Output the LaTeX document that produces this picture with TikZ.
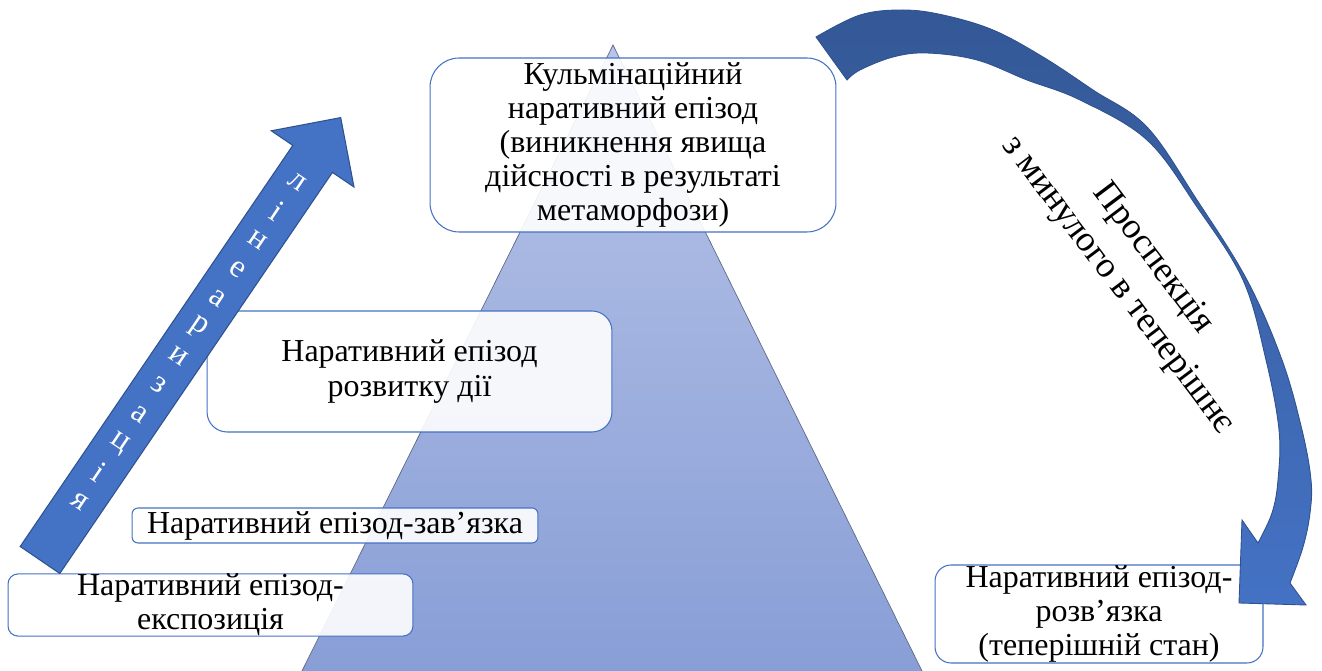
\documentclass[tikz,border=0pt]{standalone}
\usepackage{fontspec}
\setmainfont{Liberation Serif}
\usepackage{tikz}
\usetikzlibrary{calc}

\definecolor{officeblue}{RGB}{68,114,196}
\definecolor{darkblue}{RGB}{47,82,143}
\definecolor{arctop}{RGB}{52,88,150}
\definecolor{pyrtop}{RGB}{184,196,232}
\definecolor{pyrbot}{RGB}{136,158,214}
\definecolor{pyredge}{RGB}{95,105,135}
\newcommand\epfont{\fontsize{18.2}{19.4}\selectfont}
\newcommand\arcfont{\fontsize{20.6}{25}\selectfont}

\tikzset{
  epbox/.style={draw=officeblue, line width=0.6pt, fill=white, fill opacity=0.9,
    text opacity=1, rounded corners=#1, align=center, inner sep=0pt, font=\epfont},
  arrletter/.style={text=white, rotate=-34, inner sep=0pt, font=\epfont},
}

\begin{document}
\begin{tikzpicture}[x=0.02cm, y=-0.02cm]
\useasboundingbox (0,0) rectangle (1322,671);
% Піраміда
\shade[top color=pyrtop, bottom color=pyrbot] (613,45) -- (302,671) -- (922,671) -- cycle;
\draw[pyredge, line width=0.4pt] (302,671) -- (613,45) -- (922,671);
% Кульмінаційний епізод
\node[epbox=0.58cm, minimum width=8.12cm, minimum height=3.48cm] (kulm) at (633,145)
  {\raisebox{-3pt}{\parbox{7.5cm}{\centering Кульмінаційний\\наративний епізод\\(виникнення явища\\дійсності в результаті\\метаморфози)}}};
% Розвиток дії
\node[epbox=0.4cm, minimum width=8.1cm, minimum height=2.42cm] (rozvytok) at (409.5,371.5)
  {Наративний епізод\\розвитку дії};
% Зав'язка
\node[epbox=0.12cm, minimum width=8.12cm, minimum height=0.7cm] (zav) at (335,525.5)
  {Наративний епізод-зав’язка};
% Експозиція
\node[epbox=0.2cm, minimum width=8.1cm, minimum height=1.18cm] (ekspo) at (210.5,605)
  {Наративний епізод-\\експозиція};
% Розв'язка
\node[epbox=0.32cm, minimum width=6.56cm, minimum height=1.96cm] (rozv) at (1099,614)
  {Наративний епізод-\\розв’язка\\(теперішній стан)};
% Стрілка лінеаризації
\filldraw[fill=officeblue, draw=darkblue, line width=0.6pt]
  (20.2,546.5) -- (292.8,145.4) -- (271.3,130.8) -- (340.7,117.6)
  -- (354,187) -- (332.4,172.4) -- (59.8,573.5) -- cycle;
\foreach \ch [count=\i from 0] in {л,і,н,е,а,р,и,з,а,ц,і,я}
  \node[arrletter] (l\i) at ({40+0.562*(457-35.1*\i)},{560-0.827*(457-35.1*\i)}) {\ch};
% Дугова стрілка
\shadedraw[top color=arctop, bottom color=officeblue, draw=darkblue, line width=0.5pt]
  plot[smooth, tension=0.6] coordinates {(816,37) (860,15) (903,10) (943,15) (993,30)
    (1043,57) (1093,90) (1147,127) (1197,200) (1247,280) (1282,360) (1302,430)
    (1311,480) (1310,513) (1303,547) (1290,583)}
  -- (1306,605) -- (1239,603) -- (1242,520)
  -- plot[smooth, tension=0.6] coordinates {(1258,543) (1272,513) (1278,480)
    (1279,430) (1266,360) (1243,280) (1197,207) (1147,140) (1080,100) (1027,80)
    (977,60) (927,53) (893,57) (860,70) (847,80)}
  -- cycle;
% Проспекція
\node[rotate=-53, align=center, font=\arcfont, inner sep=0pt] (prosp) at (1135,272)
  {Проспекція\\з минулого в теперішнє};
\end{tikzpicture}
\end{document}
